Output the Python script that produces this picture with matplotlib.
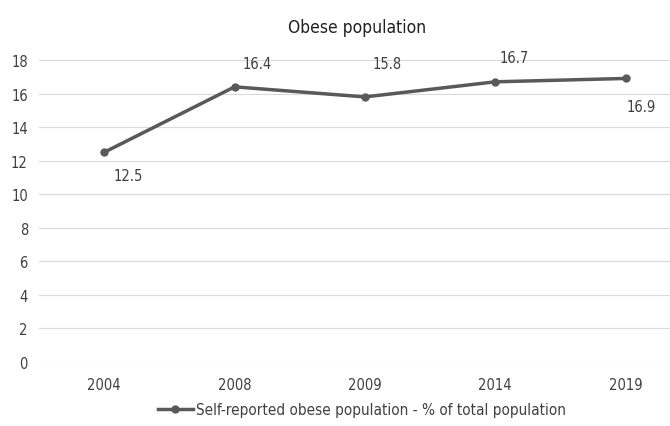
import matplotlib
matplotlib.use('Agg')
import matplotlib.pyplot as plt

years = ['2004', '2008', '2009', '2014', '2019']
obese = [12.5, 16.4, 15.8, 16.7, 16.9]
series_name = 'Self-reported obese population - % of total population'
title = 'Obese population'

# label offsets in pixels, (dx, dy) relative to each point
label_offsets = [(24, -23), (23, 23), (22, 33), (19, 24), (16, -28)]

plt.rcParams['font.family'] = ['DejaVu Sans']
plt.rcParams['font.stretch'] = 'condensed'
col = '#595959'

fig = plt.figure(figsize=(6.7, 4.27), dpi=100)
ax = fig.add_axes([39 / 670, 1 - 363 / 427, 1 - 39 / 670, (363 - 61) / 427])

x = list(range(len(years)))
ax.plot(x, obese, color=col, lw=2.5, marker='o', ms=5, label=series_name)

for i in range(len(years)):
	dx, dy = label_offsets[i]
	ax.annotate(f'{obese[i]:.1f}', (x[i], obese[i]), xytext=(dx, dy),
		textcoords='offset pixels', ha='center', va='center',
		fontsize=10.5, color='#404040', annotation_clip=False)

ax.set_xlim(-0.5, 4.34)
ax.set_ylim(0, 18)
ax.set_yticks(range(0, 19, 2))
ax.set_xticks(x)
ax.set_xticklabels(years)
ax.tick_params(length=0, labelsize=10.5, colors='#404040')
ax.tick_params(axis='x', pad=11)
ax.tick_params(axis='y', pad=8)
ax.grid(axis='y', color='#d9d9d9', lw=0.8)
ax.set_axisbelow(True)
for s in ax.spines.values():
	s.set_visible(False)

fig.text(357 / 670, 1 - 28 / 427, title, ha='center', va='center', fontsize=12.5, color='#202020')
fig.legend(loc='center', bbox_to_anchor=(362 / 670, 1 - 411 / 427), frameon=False,
	fontsize=11, handlelength=2.3, handletextpad=0.2, labelcolor='#404040')

fig.savefig('out.png', dpi=100)
